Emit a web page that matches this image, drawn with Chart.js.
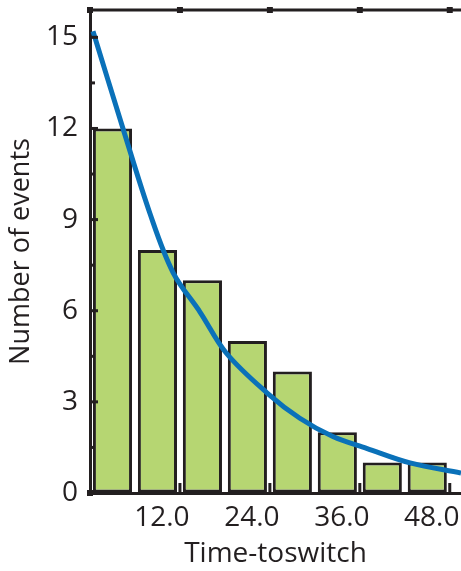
<!DOCTYPE html>
<html>
<head>
<meta charset="utf-8">
<script src="https://cdn.jsdelivr.net/npm/chart.js@4"></script>
<style>
  html, body { margin: 0; padding: 0; background: #fff; }
  #wrap { width: 461px; height: 571px; }
</style>
</head>
<body>
<div id="wrap"><canvas id="chart"></canvas></div>
<script>
// histogram bins (bin centres, width 6) and counts
const binCenters = [3, 9, 15, 21, 27, 33, 39, 45];
const counts = [12, 8, 7, 5, 4, 2, 1, 1];

// fitted decay curve
const curveX = [0.4, 4.4, 8.0, 11.1, 14.7, 18.2, 23.6, 28.0, 32.4, 36.9, 42.7, 49.5];
const curveY = [15.2, 12.0, 9.2, 7.25, 5.95, 4.6, 3.3, 2.46, 1.86, 1.47, 0.99, 0.66];

const xTicks = [12, 24, 36, 48];
const yTicks = [0, 3, 6, 9, 12, 15];

const ink = '#231f20';
const font = "'Open Sans', 'Noto Sans', sans-serif";

// inward tick marks like the original figure
const tickMarks = {
    id: 'tickMarks',
    afterDraw(chart) {
        const ctx = chart.ctx;
        const xs = chart.scales.x, ys = chart.scales.y;
        const a = chart.chartArea;
        ctx.save();
        ctx.fillStyle = ink;
        for (let v = 0; v <= 15; v += 1.5) {
            const py = ys.getPixelForValue(v);
            const len = (v % 3 === 0) ? 8 : 5;
            ctx.fillRect(a.left, py - 1.5, len, 3);
        }
        xTicks.forEach(v => {
            const px = xs.getPixelForValue(v);
            ctx.fillRect(px - 1.5, a.bottom - 10, 3, 10);
            ctx.fillRect(px - 3, a.top - 3, 6, 6);
        });
        ctx.fillRect(a.left - 3, a.top - 3, 6, 6);
        ctx.fillRect(a.left - 3, a.bottom - 3, 6, 6);
        // top frame line
        ctx.fillRect(a.left - 1.5, a.top - 1.5, a.right - a.left + 2, 3);
        ctx.restore();
    }
};

new Chart(document.getElementById('chart'), {
    type: 'bar',
    data: {
        datasets: [{
            type: 'line',
            data: curveX.map((x, i) => ({x: x, y: curveY[i]})),
            borderColor: '#0a71b9',
            borderWidth: 5,
            pointRadius: 0,
            tension: 0.35,
            order: 0
        }, {
            type: 'bar',
            data: binCenters.map((x, i) => ({x: x, y: counts[i]})),
            backgroundColor: '#b6d672',
            borderColor: ink,
            borderWidth: 3,
            borderSkipped: false,
            barPercentage: 0.87,
            categoryPercentage: 1,
            order: 1
        }]
    },
    options: {
        responsive: true,
        maintainAspectRatio: false,
        animation: false,
        layout: { padding: { top: 10, right: 0, left: 0, bottom: 0 } },
        plugins: { legend: { display: false }, tooltip: { enabled: false } },
        scales: {
            x: {
                type: 'linear',
                min: 0,
                max: 49.5,
                offset: false,
                afterBuildTicks: s => { s.ticks = xTicks.map(v => ({value: v})); },
                afterFit: s => { s.height = 78; s.paddingLeft = 0; s.paddingRight = 0; },
                grid: { drawOnChartArea: false, drawTicks: false },
                border: { display: true, color: ink, width: 3 },
                ticks: {
                    callback: v => v.toFixed(1),
                    color: ink,
                    font: { family: font, size: 28 },
                    padding: 8,
                    labelOffset: -18,
                    maxRotation: 0,
                    autoSkip: false
                },
                title: {
                    display: true,
                    text: 'Time-toswitch',
                    color: ink,
                    font: { family: font, size: 28 },
                    padding: { top: 0, bottom: 0 }
                }
            },
            y: {
                min: 0,
                max: 15.9,
                afterBuildTicks: s => { s.ticks = yTicks.map(v => ({value: v})); },
                afterFit: s => { s.width = 90; s.paddingTop = 0; s.paddingBottom = 0; },
                grid: { drawOnChartArea: false, drawTicks: false },
                border: { display: true, color: ink, width: 3 },
                ticks: {
                    color: ink,
                    font: { family: font, size: 28 },
                    padding: 12
                },
                title: {
                    display: true,
                    text: 'Number of events',
                    color: ink,
                    font: { family: font, size: 27 },
                    padding: { top: 5, bottom: 0 }
                }
            }
        }
    },
    plugins: [tickMarks]
});
</script>
</body>
</html>
